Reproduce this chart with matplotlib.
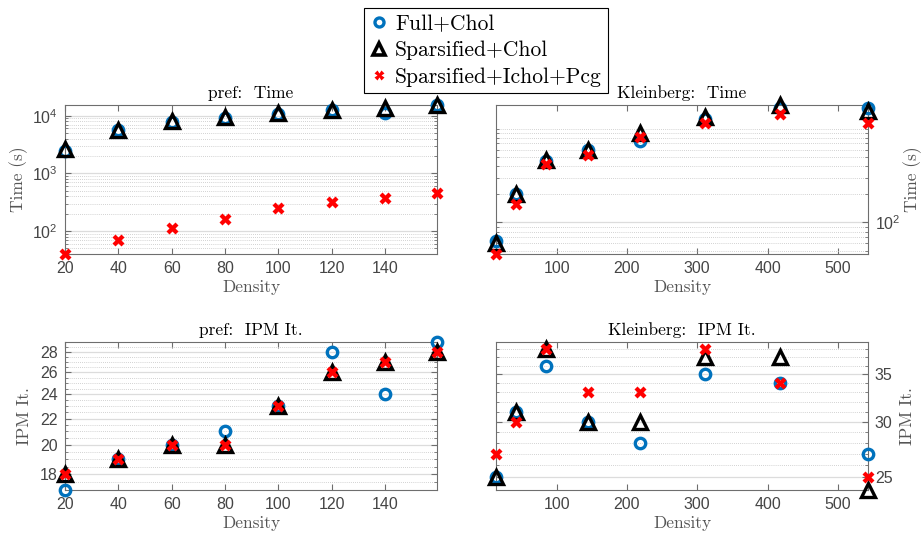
import numpy as np
import matplotlib
matplotlib.use("Agg")
import matplotlib.pyplot as plt
from matplotlib.ticker import FixedLocator, NullFormatter, FuncFormatter, LogLocator
from matplotlib.lines import Line2D

plt.rcParams['font.family'] = ['Liberation Sans', 'DejaVu Sans']
plt.rcParams['axes.unicode_minus'] = False

# ---------------- data ----------------
series_names = ["Full+Chol", "Sparsified+Chol", "Sparsified+Ichol+Pcg"]

pref_density = [20, 40, 60, 80, 100, 120, 140, 159.5]
pref_time_full = [2470, 5650, 7780, 9120, 10700, 12700, 11000, 15300]
pref_time_spchol = [2620, 5650, 8190, 9380, 11000, 12550, 13400, 15300]
pref_time_ichol = [40, 70, 115, 162, 248, 316, 380, 452]
pref_it_full = [17, 19, 20, 21, 23, 28, 24, 29]
pref_it_spchol = [18, 19, 20, 20, 23, 26, 27, 28]
pref_it_ichol = [18, 19, 20, 20, 23, 26, 27, 28]

kl_density = [13.6, 41.6, 85, 144, 219, 311, 418, 543]
kl_time_full = [63, 200, 457, 588, 748, 1280, 1683, 1683]
kl_time_spchol = [61, 200, 468, 598, 906, 1346, 1800, 1545]
kl_time_ichol = [46, 157, 421, 530, 820, 1159, 1426, 1159]
kl_it_full = [25, 31, 36, 30, 28, 35, 34, 27]
kl_it_spchol = [25, 31, 38, 30, 30, 37, 37, 24]
kl_it_ichol = [27, 30, 38, 33, 33, 38, 34, 25]

pref_xticks = [20, 40, 60, 80, 100, 120, 140]
kl_xticks = [100, 200, 300, 400, 500]
pref_it_yticks = [18, 20, 22, 24, 26, 28]
kl_it_yticks = [25, 30, 35]

titles = ["pref:  Time", "Kleinberg:  Time", "pref:  IPM It.", "Kleinberg:  IPM It."]

# ---------------- style ----------------
BLUE = '#0072BD'
AX_COL = '#6e6e6e'
TICK_COL = '#454545'
LABEL_COL = '#555555'
SERIF = 'cmr10'

fig = plt.figure(figsize=(9.23, 5.36), dpi=100)

W = (868 - 496) / 923
H_top = (254 - 105) / 536
H_bot = (490 - 342) / 536
pos = {
    'tl': [65 / 923, 1 - 254 / 536, W, H_top],
    'tr': [496 / 923, 1 - 254 / 536, W, H_top],
    'bl': [65 / 923, 1 - 490 / 536, W, H_bot],
    'br': [496 / 923, 1 - 490 / 536, W, H_bot],
}

def style(ax, right=False):
    for s in ax.spines.values():
        s.set_color(AX_COL)
        s.set_linewidth(0.8)
    ax.tick_params(axis='both', which='both', direction='in', top=True, right=True,
                   left=True, bottom=True, colors=AX_COL, labelcolor=TICK_COL,
                   labelsize=11.5)
    ax.tick_params(which='major', length=4.5, width=0.8, pad=5)
    ax.tick_params(which='minor', length=2.5, width=0.6)
    ax.tick_params(axis='x', which='minor', bottom=False, top=False)
    if right:
        ax.tick_params(axis='y', labelleft=False, labelright=True)
        ax.yaxis.set_label_position('right')
    ax.set_axisbelow(True)
    ax.yaxis.grid(True, which='major', color='#dcdcdc', lw=0.9, ls='-')
    ax.yaxis.grid(True, which='minor', color='#c4c4c4', lw=0.6, ls=(0, (1, 1.5)))
    ax.set_xlabel('Density', family=SERIF, fontsize=12.5, color=LABEL_COL, labelpad=3)

def plot3(ax, x, a, b, c):
    ax.plot(x, a, ls='none', marker='o', ms=7.5, mfc='none', mec=BLUE, mew=2.4, clip_on=False, zorder=3)
    ax.plot(x, b, ls='none', marker='^', ms=10, mfc='none', mec='black', mew=2.4, clip_on=False, zorder=4)
    ax.plot(x, c, ls='none', marker='X', ms=8, mfc='red', mec='none', clip_on=False, zorder=5)

int_fmt = FuncFormatter(lambda v, p: f"{v:g}")

# top-left
ax = fig.add_axes(pos['tl'])
plot3(ax, pref_density, pref_time_full, pref_time_spchol, pref_time_ichol)
ax.set_yscale('log')
ax.set_xlim(20, 159.5)
ax.set_ylim(40, 15300)
ax.set_xticks(pref_xticks)
ax.yaxis.set_major_locator(FixedLocator([1e2, 1e3, 1e4]))
ax.yaxis.set_minor_locator(LogLocator(base=10, subs=np.arange(2, 10)))
ax.yaxis.set_minor_formatter(NullFormatter())
style(ax)
ax.set_ylabel('Time (s)', family=SERIF, fontsize=12.5, color=LABEL_COL, labelpad=3)
ax.set_title(titles[0], family=SERIF, fontsize=12.5, pad=5)

# top-right
ax = fig.add_axes(pos['tr'])
plot3(ax, kl_density, kl_time_full, kl_time_spchol, kl_time_ichol)
ax.set_yscale('log')
ax.set_xlim(13.6, 543)
ax.set_ylim(46, 1800)
ax.set_xticks(kl_xticks)
ax.yaxis.set_major_locator(FixedLocator([100]))
ax.yaxis.set_minor_locator(FixedLocator([50, 60, 70, 80, 90, 200, 300, 400, 500, 600, 700, 800, 900, 1000]))
ax.yaxis.set_minor_formatter(NullFormatter())
style(ax, right=True)
ax.set_ylabel('Time (s)', family=SERIF, fontsize=12.5, color=LABEL_COL, labelpad=2,
              rotation=90)
ax.set_title(titles[1], family=SERIF, fontsize=12.5, pad=5)

# bottom-left
ax = fig.add_axes(pos['bl'])
plot3(ax, pref_density, pref_it_full, pref_it_spchol, pref_it_ichol)
ax.set_yscale('log')
ax.set_xlim(20, 159.5)
ax.set_ylim(17, 29)
ax.set_xticks(pref_xticks)
ax.yaxis.set_major_locator(FixedLocator(pref_it_yticks))
ax.yaxis.set_major_formatter(int_fmt)
ax.yaxis.set_minor_locator(FixedLocator(np.arange(17, 29.01, 0.5)))
ax.yaxis.set_minor_formatter(NullFormatter())
style(ax)
ax.set_ylabel('IPM It.', family=SERIF, fontsize=12.5, color=LABEL_COL, labelpad=6)
ax.set_title(titles[2], family=SERIF, fontsize=12.5, pad=5)

# bottom-right
ax = fig.add_axes(pos['br'])
plot3(ax, kl_density, kl_it_full, kl_it_spchol, kl_it_ichol)
ax.set_yscale('log')
ax.set_xlim(13.6, 543)
ax.set_ylim(24, 38.9)
ax.set_xticks(kl_xticks)
ax.yaxis.set_major_locator(FixedLocator(kl_it_yticks))
ax.yaxis.set_major_formatter(int_fmt)
ax.yaxis.set_minor_locator(FixedLocator(np.arange(24, 39)))
ax.yaxis.set_minor_formatter(NullFormatter())
style(ax, right=True)
ax.set_ylabel('IPM It.', family=SERIF, fontsize=12.5, color=LABEL_COL, labelpad=5)
ax.set_title(titles[3], family=SERIF, fontsize=12.5, pad=5)

# legend
handles = [
    Line2D([], [], ls='none', marker='o', ms=6.5, mfc='none', mec=BLUE, mew=2.4),
    Line2D([], [], ls='none', marker='^', ms=9, mfc='none', mec='black', mew=2.6),
    Line2D([], [], ls='none', marker='X', ms=7, mfc='red', mec='none'),
]
leg = fig.legend(handles, series_names, loc='upper center',
                 bbox_to_anchor=(486 / 923, 1 - 8 / 536),
                 prop={'family': SERIF, 'size': 15.5}, frameon=True, fancybox=False,
                 edgecolor='black', framealpha=1, borderpad=0.3, labelspacing=0.32,
                 handlelength=0.8, handletextpad=0.35, borderaxespad=0)
leg.get_frame().set_linewidth(0.8)

fig.savefig('out.png', dpi=100)
